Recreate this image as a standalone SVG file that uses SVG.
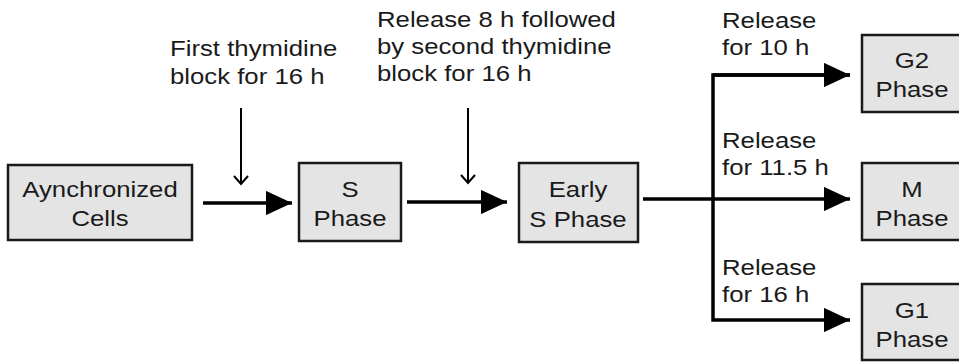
<svg xmlns="http://www.w3.org/2000/svg" width="959" height="362" viewBox="0 0 959 362">
<style>
.box{fill:#e4e4e4;stroke:#1a1a1a;stroke-width:2.5}
text{font-family:"Liberation Sans",Arial,sans-serif;font-size:22px;fill:#1a1a1a}
.c{text-anchor:middle}
.thick{stroke:#000;stroke-width:3.5;fill:none}
.thin{stroke:#000;stroke-width:2;fill:none}
</style>
<defs>
<marker id="head" markerWidth="8" markerHeight="7" refX="7.5" refY="3.5" orient="auto" markerUnits="strokeWidth">
<path d="M0,0 L7.5,3.5 L0,7 Z" fill="#000"/>
</marker>
</defs>
<g id="labels">
<text transform="translate(170,56) scale(1.17,1)">First thymidine</text>
<text transform="translate(170,84) scale(1.17,1)">block for 16 h</text>
<text transform="translate(377,27) scale(1.17,1)">Release 8 h followed</text>
<text transform="translate(377,54) scale(1.17,1)">by second thymidine</text>
<text transform="translate(377,81) scale(1.17,1)">block for 16 h</text>
<text transform="translate(722,28) scale(1.17,1)">Release</text>
<text transform="translate(722,55) scale(1.17,1)">for 10 h</text>
<text transform="translate(722,148) scale(1.17,1)">Release</text>
<text transform="translate(722,175) scale(1.17,1)">for 11.5 h</text>
<text transform="translate(722,275) scale(1.17,1)">Release</text>
<text transform="translate(722,302) scale(1.17,1)">for 16 h</text>
</g>
<g id="connectors">
<line class="thick" x1="203" y1="203" x2="292" y2="203" marker-end="url(#head)"/>
<line class="thick" x1="407" y1="202" x2="507" y2="202" marker-end="url(#head)"/>
<line class="thick" x1="643" y1="199" x2="850" y2="199" marker-end="url(#head)"/>
<path class="thick" d="M850,75 H713 V320 H850" marker-end="url(#head)"/>
<line class="thick" x1="713" y1="75" x2="850" y2="75" marker-end="url(#head)"/>
<line class="thin" x1="241" y1="108" x2="241" y2="183"/>
<path class="thin" d="M234,176 L241,184 L248,176"/>
<line class="thin" x1="468" y1="108" x2="468" y2="182"/>
<path class="thin" d="M461,175 L468,183 L475,175"/>
</g>
<g id="node-async">
<rect class="box" x="8" y="165" width="184" height="75"/>
<text class="c" transform="translate(100,197) scale(1.17,1)">Aynchronized</text>
<text class="c" transform="translate(100,226) scale(1.17,1)">Cells</text>
</g>
<g id="node-s">
<rect class="box" x="299" y="163" width="102" height="78"/>
<text class="c" transform="translate(350,197) scale(1.17,1)">S</text>
<text class="c" transform="translate(350,226) scale(1.17,1)">Phase</text>
</g>
<g id="node-early">
<rect class="box" x="519" y="163" width="119" height="79"/>
<text class="c" transform="translate(578,197) scale(1.17,1)">Early</text>
<text class="c" transform="translate(578,227) scale(1.17,1)">S Phase</text>
</g>
<g id="node-g2">
<rect class="box" x="862" y="35" width="102" height="77"/>
<text class="c" transform="translate(912,68) scale(1.17,1)">G2</text>
<text class="c" transform="translate(912,97) scale(1.17,1)">Phase</text>
</g>
<g id="node-m">
<rect class="box" x="862" y="163" width="102" height="77"/>
<text class="c" transform="translate(912,197) scale(1.17,1)">M</text>
<text class="c" transform="translate(912,226) scale(1.17,1)">Phase</text>
</g>
<g id="node-g1">
<rect class="box" x="862" y="284" width="102" height="76"/>
<text class="c" transform="translate(912,318) scale(1.17,1)">G1</text>
<text class="c" transform="translate(912,347) scale(1.17,1)">Phase</text>
</g>
</svg>
